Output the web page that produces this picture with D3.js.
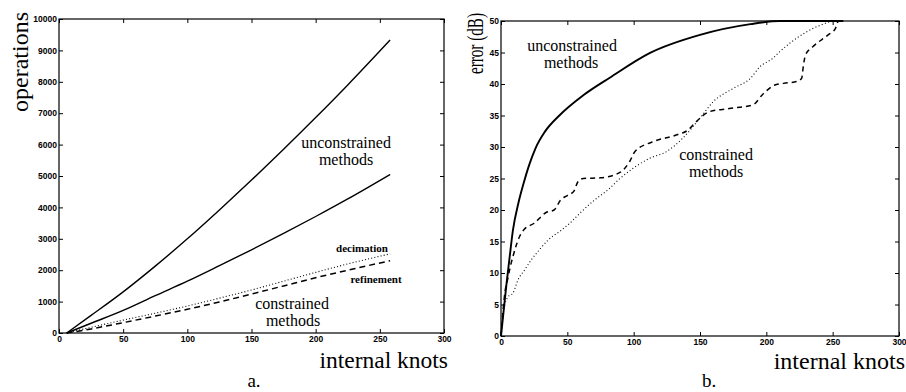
<!DOCTYPE html>
<html>
<head>
<meta charset="utf-8">
<script src="https://cdn.jsdelivr.net/npm/d3@7"></script>
<style>
  html, body { margin: 0; padding: 0; background: #fff; }
  svg { display: block; }
  .tick text { font-family: "Liberation Sans", Arial, sans-serif; font-weight: bold; font-size: 8.5px; fill: #000; }
  .tick line { stroke: #000; stroke-width: 1; }
  .serif { font-family: "Liberation Serif", "Times New Roman", serif; fill: #000; }
</style>
</head>
<body>
<svg id="chart" width="906" height="392"></svg>
<script>
// ---- Panel a: operation counts versus number of internal knots ----
const opsKnots        = [6, 25, 50, 75, 100, 125, 150, 175, 200, 225, 258];
const opsUnconstrHigh = [0, 560, 1310, 2130, 3000, 3920, 4870, 5850, 6860, 7900, 9330];
const opsUnconstrLow  = [0, 310, 720, 1190, 1650, 2145, 2650, 3170, 3710, 4270, 5050];
const opsDecimation   = [0, 180, 410, 630, 860, 1110, 1370, 1650, 1930, 2200, 2520];
const opsRefinement   = [0, 130, 330, 540, 755, 990, 1240, 1500, 1760, 2000, 2300];
const opsXTicks = [0, 50, 100, 150, 200, 250, 300];
const opsYTicks = [0, 1000, 2000, 3000, 4000, 5000, 6000, 7000, 8000, 9000, 10000];

// ---- Panel b: error (dB) versus number of internal knots ----
const errUnconstrKnots = [0, 1.5, 4, 6.5, 9, 13, 17, 21, 26, 33, 44, 62, 82, 112, 150, 188, 210, 258];
const errUnconstr      = [0, 3, 8, 12.5, 16.8, 21, 24.2, 27, 29.8, 32.4, 35, 38.2, 41, 44.9, 47.8, 49.5, 50, 50];
const errRefineKnots = [0, 3, 5, 7, 9, 11.5, 14, 17, 25, 34, 40, 45, 50, 55, 58, 62, 75, 90, 97, 101, 114, 132, 141, 147, 157, 172, 190, 197, 206, 213, 223, 226.6, 228, 229.5, 235, 246.6, 252, 254];
const errRefine      = [0, 7, 9, 11, 12.6, 14.4, 15.8, 16.8, 17.9, 19.6, 20, 21.6, 22.3, 23, 24.5, 25, 25.1, 26, 27.7, 29.3, 30.8, 31.9, 32.7, 34, 35.6, 36.1, 36.7, 38.3, 39.8, 40.1, 40.4, 40.9, 43, 44.6, 45.9, 47.8, 48.8, 50];
const errDecimKnots = [0, 2, 5.3, 9, 12.8, 17.8, 22.9, 29, 35.4, 45.5, 51.8, 60.5, 70.6, 80.6, 89.7, 112, 125, 137, 150, 160, 175, 188, 195, 205, 210, 223, 235, 248];
const errDecim      = [0, 4, 6.2, 6.8, 8.9, 10.5, 12.1, 13.7, 15.2, 16.8, 17.9, 19.7, 21.6, 23.2, 25, 28.2, 29.3, 31.4, 34.6, 37.2, 39.3, 40.9, 42.7, 44.1, 45.1, 47.3, 48.8, 49.9];
const errXTicks = [0, 50, 100, 150, 200, 250, 300];
const errYTicks = [0, 5, 10, 15, 20, 25, 30, 35, 40, 45, 50];

const svg = d3.select("#chart");

function framedPanel(cfg) {
  const x = d3.scaleLinear().domain([0, 300]).range([cfg.left, cfg.right]);
  const y = d3.scaleLinear().domain(cfg.yDomain).range([cfg.bottom, cfg.top]);
  const g = svg.append("g");

  // MATLAB-style inward ticks on all four sides
  g.append("g").attr("transform", `translate(0,${cfg.bottom})`)
    .call(d3.axisBottom(x).tickValues(cfg.xTicks).tickSize(-4).tickPadding(3).tickFormat(d3.format("d")))
    .call(a => a.select(".domain").remove());
  g.append("g").attr("transform", `translate(0,${cfg.top})`)
    .call(d3.axisTop(x).tickValues(cfg.xTicks).tickSize(-4).tickFormat(""))
    .call(a => a.select(".domain").remove());
  g.append("g").attr("transform", `translate(${cfg.left},0)`)
    .call(d3.axisLeft(y).tickValues(cfg.yTicks).tickSize(-4).tickPadding(2).tickFormat(d3.format("d")))
    .call(a => a.select(".domain").remove());
  g.append("g").attr("transform", `translate(${cfg.right},0)`)
    .call(d3.axisRight(y).tickValues(cfg.yTicks).tickSize(-4).tickFormat(""))
    .call(a => a.select(".domain").remove());

  g.append("rect")
    .attr("x", cfg.left).attr("y", cfg.top)
    .attr("width", cfg.right - cfg.left).attr("height", cfg.bottom - cfg.top)
    .attr("fill", "none").attr("stroke", "#000").attr("stroke-width", 1.2);

  return { g, x, y };
}

function drawSeries(p, xs, ys, style) {
  const line = d3.line().x(d => p.x(d[0])).y(d => p.y(d[1])).curve(d3.curveMonotoneX);
  p.g.append("path")
    .datum(d3.zip(xs, ys))
    .attr("d", line)
    .attr("fill", "none")
    .attr("stroke", "#000")
    .attr("stroke-width", style.width)
    .attr("stroke-dasharray", style.dash || null);
}

function label(text, x, y, size, opts = {}) {
  const t = svg.append("text")
    .attr("class", "serif")
    .attr("x", x).attr("y", y)
    .attr("font-size", size)
    .attr("text-anchor", opts.anchor || "middle")
    .text(text);
  if (opts.weight) t.attr("font-weight", opts.weight);
  return t;
}

// ---------- Panel a ----------
const pa = framedPanel({ left: 59, right: 444, top: 19, bottom: 333,
  yDomain: [0, 10000], xTicks: opsXTicks, yTicks: opsYTicks });
drawSeries(pa, opsKnots, opsUnconstrHigh, { width: 1.4 });
drawSeries(pa, opsKnots, opsUnconstrLow, { width: 1.4 });
drawSeries(pa, opsKnots, opsDecimation, { width: 1.1, dash: "1,2.2" });
drawSeries(pa, opsKnots, opsRefinement, { width: 1.5, dash: "6,4" });

svg.append("text").attr("class", "serif")
  .attr("transform", "translate(28,12) rotate(-90)")
  .attr("text-anchor", "end").attr("font-size", 24)
  .text("operations");
label("unconstrained", 346, 148, 16);
label("methods", 346, 165, 16);
label("decimation", 362, 252, 11, { weight: "bold" });
label("refinement", 376, 283, 11, { weight: "bold" });
label("constrained", 292, 309, 16);
label("methods", 293, 326, 16);
label("internal knots", 448, 368, 23.5, { anchor: "end" });
label("a.", 254, 387, 19);

// ---------- Panel b ----------
const pb = framedPanel({ left: 501, right: 899, top: 21, bottom: 336,
  yDomain: [0, 50], xTicks: errXTicks, yTicks: errYTicks });
drawSeries(pb, errDecimKnots, errDecim, { width: 1.1, dash: "1,2.4" });
drawSeries(pb, errRefineKnots, errRefine, { width: 1.5, dash: "5,4" });
drawSeries(pb, errUnconstrKnots, errUnconstr, { width: 1.9 });

// axis title is set narrow along its reading direction
svg.append("text").attr("class", "serif")
  .attr("transform", "translate(483,13) rotate(-90) scale(0.66,1)")
  .attr("text-anchor", "end").attr("font-size", 23)
  .text("error (dB)");
label("unconstrained", 572, 51, 16);
label("methods", 571, 68, 16);
label("constrained", 716, 160, 16);
label("methods", 716, 177, 16);
label("internal knots", 905, 369, 24, { anchor: "end" });
label("b.", 709, 387, 19);
</script>
</body>
</html>
